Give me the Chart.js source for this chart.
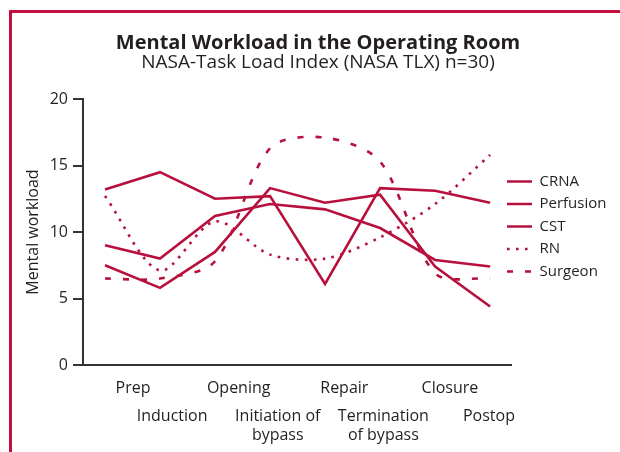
<!DOCTYPE html>
<html><head><meta charset="utf-8">
<script src="https://cdn.jsdelivr.net/npm/chart.js@4"></script>
<style>
html,body{margin:0;padding:0;background:#fff;}
#wrap{position:relative;width:620px;height:452px;overflow:hidden;background:#fff;}
#frame{position:absolute;left:9px;top:10px;width:700px;height:600px;border-top:3px solid #c2103f;border-left:3px solid #c2103f;pointer-events:none;}
canvas{position:absolute;left:0;top:0;}
</style></head><body>
<div id="wrap"><canvas id="c" width="620" height="452"></canvas><div id="frame"></div></div>
<script>
// ---- data ----
const CATEGORIES = ['Prep', 'Induction', 'Opening', ['Initiation of', 'bypass'], 'Repair', ['Termination', 'of bypass'], 'Closure', 'Postop'];
const CRNA      = [13.2, 14.5, 12.5, 12.7, 6.1, 13.3, 13.1, 12.2];
const PERFUSION = [9.0, 8.0, 11.2, 12.1, 11.7, 10.3, 7.9, 7.4];
const CST       = [7.5, 5.8, 8.5, 13.3, 12.2, 12.8, 7.4, 4.4];
const RN        = [12.7, 7.1, 10.8, 8.3, 8.0, 9.6, 12.1, 15.8];
const SURGEON   = [6.5, 6.5, 7.8, 16.3, 17.1, 15.3, 6.9, 6.5];
const SERIES_NAMES = ['CRNA', 'Perfusion', 'CST', 'RN', 'Surgeon'];
const Y_TICKS = [0, 5, 10, 15, 20];

const RED = '#b8103d';
const INK = '#231f20';
const AXIS = '#333333';

Chart.defaults.font.family = "'Open Sans', sans-serif";
Chart.defaults.color = INK;

const toPoints = arr => arr.map((v, i) => ({x: i, y: v}));
// staggered label placement (labels sit in pairs, slightly right of the points)
const labelPos = i => i * 0.96 + 0.51 - (i % 2) * 0.25;

function lineDs(label, values, dash, tension) {
  return {
    label, data: toPoints(values),
    borderColor: RED, backgroundColor: RED,
    borderWidth: 2.6, borderDash: dash, tension: tension,
    pointRadius: 0, fill: false, xAxisID: 'x'
  };
}

const legendNudge = {
  id: 'legendNudge',
  afterLayout(chart) {
    const lg = chart.legend;
    lg.left -= 11.5; lg.right -= 11.5;
    lg.top += 21; lg.bottom += 21;
  }
};

const baseLabels = Chart.defaults.plugins.legend.labels.generateLabels;

const X_MIN = -0.4, X_MAX = 7.38;

new Chart(document.getElementById('c'), {
  type: 'line',
  data: {
    datasets: [
      lineDs(SERIES_NAMES[0], CRNA, [], 0),
      lineDs(SERIES_NAMES[1], PERFUSION, [], 0),
      lineDs(SERIES_NAMES[2], CST, [], 0),
      lineDs(SERIES_NAMES[3], RN, [2.6, 6.4], 0.3),
      lineDs(SERIES_NAMES[4], SURGEON, [6, 12], 0.3)
    ]
  },
  plugins: [legendNudge],
  options: {
    responsive: false,
    animation: false,
    events: [],
    layout: {padding: {left: 16, right: 0, top: 0, bottom: 41}},
    plugins: {
      title: {
        display: true,
        text: 'Mental Workload in the Operating Room',
        font: {size: 20, weight: 'bold', lineHeight: 1.0},
        color: INK,
        padding: {top: 33, bottom: 0}
      },
      subtitle: {
        display: true,
        text: 'NASA-Task Load Index (NASA TLX) n=30)',
        font: {size: 19, weight: 'normal', lineHeight: 1.0},
        color: INK,
        padding: {top: 0.5, bottom: 26.5}
      },
      legend: {
        position: 'right',
        maxWidth: 109,
        labels: {
          usePointStyle: true,
          pointStyle: 'line',
          pointStyleWidth: 25,
          padding: 7.5,
          font: {size: 15},
          color: INK,
          generateLabels: chart => baseLabels(chart).map((it, i) => {
            const ds = chart.data.datasets[it.datasetIndex !== undefined ? it.datasetIndex : i];
            return Object.assign({}, it, {
              lineDash: ds.borderDash, lineWidth: ds.borderWidth,
              strokeStyle: ds.borderColor, fillStyle: ds.borderColor,
              pointStyle: 'line', lineCap: 'butt'
            });
          })
        }
      },
      tooltip: {enabled: false}
    },
    scales: {
      x: {
        type: 'linear',
        position: 'bottom',
        min: X_MIN, max: X_MAX,
        bounds: 'data',
        grid: {display: false, drawTicks: false},
        border: {display: true, color: AXIS, width: 2},
        afterBuildTicks: s => { s.ticks = CATEGORIES.map((c, i) => i).filter(i => i % 2 === 0).map(i => ({value: labelPos(i)})); },
        ticks: {
          autoSkip: false, maxRotation: 0, minRotation: 0, padding: 13.4,
          font: {size: 16}, color: INK,
          callback: (v, idx) => CATEGORIES[idx * 2]
        }
      },
      x2: {
        type: 'linear',
        axis: 'x',
        position: {y: 0},
        min: X_MIN, max: X_MAX,
        bounds: 'data',
        grid: {display: false, drawTicks: false},
        border: {display: false},
        afterBuildTicks: s => { s.ticks = CATEGORIES.map((c, i) => i).filter(i => i % 2 === 1).map(i => ({value: labelPos(i)})); },
        ticks: {
          autoSkip: false, maxRotation: 0, minRotation: 0, padding: 42.25,
          font: {size: 16, lineHeight: '18.5px'}, color: INK,
          callback: (v, idx) => CATEGORIES[idx * 2 + 1]
        }
      },
      y: {
        min: 0, max: 20,
        afterBuildTicks: s => { s.ticks = Y_TICKS.map(v => ({value: v})); },
        grid: {display: true, drawOnChartArea: false, drawTicks: true, tickLength: 10, color: AXIS, lineWidth: 2},
        border: {display: true, color: AXIS, width: 2},
        ticks: {padding: 5, font: {size: 16}, color: INK},
        title: {
          display: true, text: 'Mental workload',
          font: {size: 16}, color: INK,
          padding: {top: 7.4, bottom: 2.1}
        }
      }
    }
  }
});
</script>
</body></html>
